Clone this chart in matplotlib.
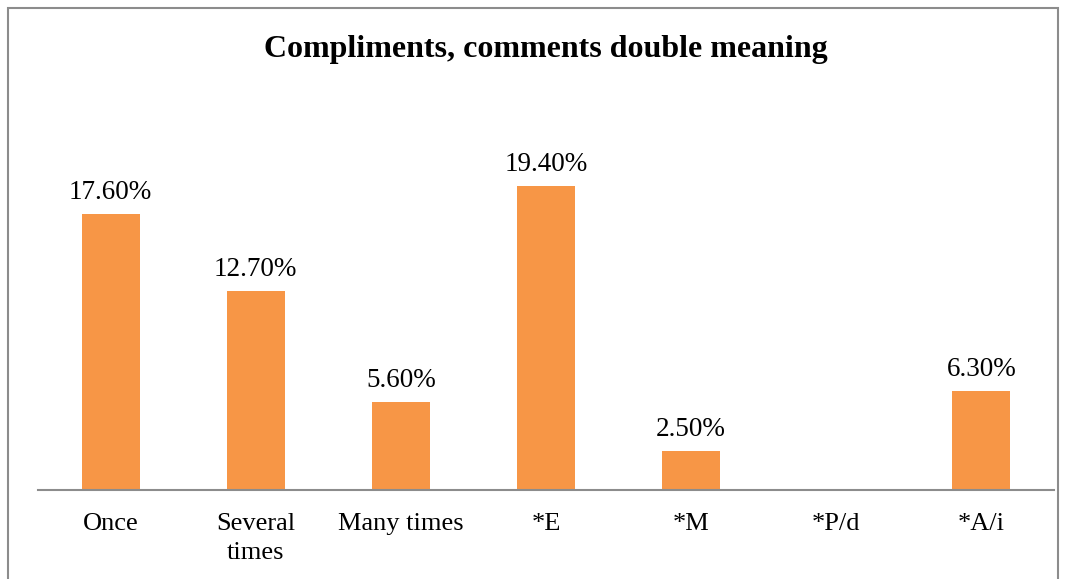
import matplotlib
matplotlib.use("Agg")
import matplotlib.pyplot as plt
from matplotlib.patches import Rectangle

categories = ["Once", "Several\ntimes", "Many times", "*E", "*M", "*P/d", "*A/i"]
values = [17.6, 12.7, 5.6, 19.4, 2.5, 0.0, 6.3]
labels = ["17.60%", "12.70%", "5.60%", "19.40%", "2.50%", None, "6.30%"]
title = "Compliments, comments double meaning"

plt.rcParams['font.family'] = ['Liberation Serif', 'DejaVu Serif']

W, H = 1072, 579
fig = plt.figure(figsize=(W/100, H/100), dpi=100)
fig.patch.set_facecolor("white")

# outer border
fig.patches.append(Rectangle((8/W, -0.05), (1058-8)/W, 1.05 - 8/H, transform=fig.transFigure,
                             fill=False, edgecolor="#8c8c8c", linewidth=1.5))

ymax = 25.0
scale = 15.67
left, right, base = 38, 1054, 490
ax = fig.add_axes([left/W, (H-base)/H, (right-left)/W, ymax*scale/H])
x = list(range(len(categories)))
ax.bar(x, values, width=0.4, color="#F79646")
ax.set_xlim(-0.5, len(categories)-0.5)
ax.set_ylim(0, ymax)
for xi, v, lab in zip(x, values, labels):
    if lab:
        ax.annotate(lab, (xi, v), xytext=(0, 6.5), textcoords="offset points",
                    ha="center", va="bottom", fontsize=19.5)
for s in ["top", "right", "left"]:
    ax.spines[s].set_visible(False)
ax.spines["bottom"].set_color("#8c8c8c")
ax.spines["bottom"].set_linewidth(1.5)
ax.set_yticks([])
ax.set_xticks(x)
ax.set_xticklabels(categories, fontsize=19, linespacing=1.4)
ax.tick_params(axis="x", length=0, pad=16.5)
ax.patch.set_alpha(0)

fig.text(546/W, 1 - 50/H, title, ha="center", va="center", fontsize=23, fontweight="bold")

fig.savefig("out.png", dpi=100)
